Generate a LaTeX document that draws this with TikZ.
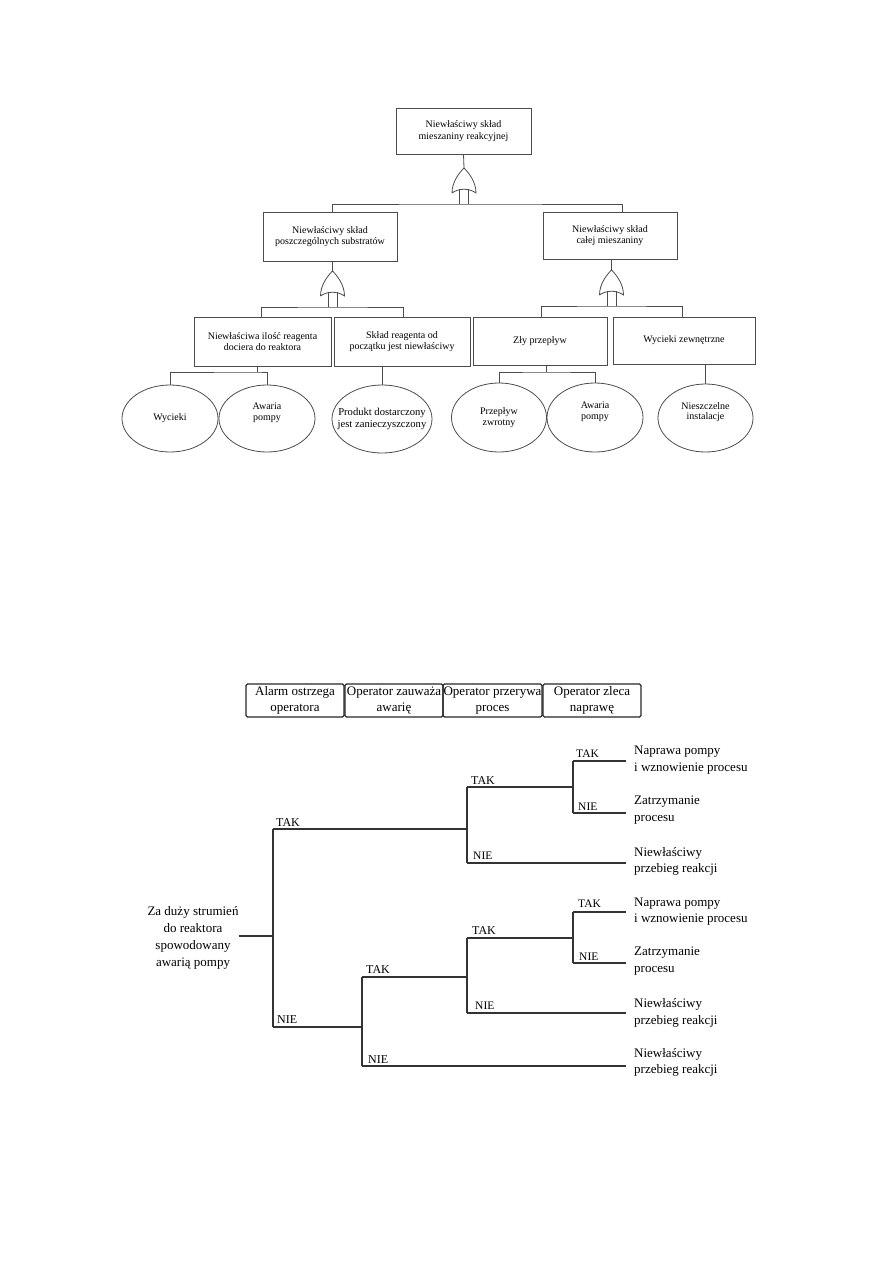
\documentclass[tikz,border=0pt]{standalone}
\usepackage{fontspec}
\setmainfont{Liberation Serif}
\usetikzlibrary{shapes.geometric}
\begin{document}
\begin{tikzpicture}[x=1pt,y=-1pt,
  ftline/.style={draw=black!70, line width=0.8pt},
  ftbox/.style={ftline, rectangle, inner sep=0pt, align=center, font=\fontsize{10}{11.5}\selectfont},
  ftell/.style={ftline, ellipse, inner sep=-12pt, align=center, font=\fontsize{10}{11.5}\selectfont},
  etline/.style={draw=black!80, line width=1.1pt},
  hbox/.style={draw=black!85, line width=1.1pt, rounded corners=1.5pt, rectangle, inner sep=0pt,
    minimum width=98pt, minimum height=33pt, align=center, font=\fontsize{13}{16}\selectfont},
  outc/.style={anchor=west, inner sep=0pt, align=left, font=\fontsize{13}{16.5}\selectfont},
  lab/.style={anchor=base west, inner sep=0pt, font=\fontsize{12}{14}\selectfont},
  labs/.style={anchor=base west, inner sep=0pt, font=\fontsize{11.5}{14}\selectfont},
  orgate/.pic={
    \draw[ftline, fill=white] (-12,25) .. controls (-12,14) and (-5,5) .. (0,0)
      .. controls (5,5) and (12,14) .. (12,25) .. controls (5,20) and (-5,20) .. (-12,25);
    \draw[ftline] (-4.5,21.2) -- (-4.5,36);
    \draw[ftline] (4.5,21.2) -- (4.5,36);
  }]
\useasboundingbox (0,0) rectangle (893,1263);

% ---------------- Fault tree ----------------
\node[ftbox, minimum width=135pt, minimum height=46pt] (top) at (463.5,131) {Niewłaściwy skład\\mieszaniny reakcyjnej};
\node[ftbox, minimum width=134pt, minimum height=49pt] (sub) at (330,236.5) {Niewłaściwy skład\\poszczególnych substratów};
\node[ftbox, minimum width=134pt, minimum height=47pt] (mix) at (610,235.5) {Niewłaściwy skład\\całej mieszaniny};
\node[ftbox, minimum width=137pt, minimum height=49pt] (A) at (262.5,341.5) {Niewłaściwa ilość reagenta\\dociera do reaktora};
\node[ftbox, minimum width=136pt, minimum height=49pt] (B) at (402,341.5) {Skład reagenta od\\początku jest niewłaściwy};
\node[ftbox, minimum width=134pt, minimum height=48pt] (C) at (540,341) {Zły przepływ};
\node[ftbox, minimum width=142pt, minimum height=47pt] (D) at (684,340.5) {Wycieki zewnętrzne};

\node[ftell, minimum width=96pt, minimum height=67pt] (e1) at (170,418.5) {Wycieki};
\node[ftell, minimum width=96pt, minimum height=67pt] (e2) at (267,418.5) {Awaria\\pompy\\[2pt]};
\node[ftell, minimum width=100pt, minimum height=68pt, font=\fontsize{10.6}{12}\selectfont] (e3) at (382,419) {Produkt dostarczony\\jest zanieczyszczony};
\node[ftell, minimum width=95pt, minimum height=69pt] (e4) at (499,417.5) {Przepływ\\zwrotny};
\node[ftell, minimum width=96pt, minimum height=69pt] (e5) at (595,417.5) {Awaria\\pompy\\[2pt]};
\node[ftell, minimum width=95pt, minimum height=68pt, font=\fontsize{10}{9.5}\selectfont] (e6) at (705.5,418) {Nieszczelne\\instalacje\\[4pt]};

% gates
\coordinate (g1) at (464,168);
\coordinate (g2) at (332.5,271);
\coordinate (g3) at (611.5,270);
\coordinate (bus1) at (464,204);
\coordinate (bus2) at (332.5,307);
\coordinate (bus3) at (611.5,306);
\coordinate (j1) at (257,372);
\coordinate (j2) at (546,372);

\draw[ftline] (top.south) -- (g1);
\pic at (g1) {orgate};
\draw[ftline] ([xshift=2pt]sub.north) |- (bus1) -| ([xshift=12pt]mix.north);

\draw[ftline] ([xshift=2.5pt]sub.south) -- (g2);
\pic at (g2) {orgate};
\draw[ftline] ([xshift=-1.5pt]A.north) |- (bus2) -| ([xshift=1pt]B.north);

\draw[ftline] ([xshift=1.5pt]mix.south) -- (g3);
\pic at (g3) {orgate};
\draw[ftline] ([xshift=1pt]C.north) |- (bus3) -| ([xshift=-2pt]D.north);

\draw[ftline] ([xshift=-5.5pt]A.south) -- (j1);
\draw[ftline] (e1.north) |- (j1) -| (e2.north);
\draw[ftline] (B.south -| e3.north) -- (e3.north);
\draw[ftline] ([xshift=6pt]C.south) -- (j2);
\draw[ftline] (e4.north) |- (j2) -| (e5.north);
\draw[ftline] (D.south -| e6.north) -- (e6.north);

% ---------------- Event tree ----------------
\node[hbox] (h1) at (295,700.5) {Alarm ostrzega\\operatora};
\node[hbox] (h2) at (394,700.5) {Operator zauważa\\awarię};
\node[hbox, minimum width=99pt] (h3) at (492.5,700.5) {Operator przerywa\\proces};
\node[hbox] (h4) at (592,700.5) {Operator zleca\\naprawę};

\node[inner sep=0pt, align=center, font=\fontsize{13}{17}\selectfont] (init) at (193,937.5)
  {Za duży strumień\\do reaktora\\spowodowany\\awarią pompy};

\coordinate (b0) at (273,936);
\coordinate (At) at (273,829);
\coordinate (An) at (273,1027);
\coordinate (Bt) at (467,787);
\coordinate (Bn) at (467,863);
\coordinate (Ct) at (362,977);
\coordinate (Cn) at (362,1066);
\coordinate (Dt) at (573,761);
\coordinate (Dn) at (573,813);
\coordinate (Et) at (467,938);
\coordinate (En) at (467,1013);
\coordinate (Ft) at (573,912);
\coordinate (Fn) at (573,963);
\coordinate (end) at (626,0);

\draw[etline] (init.east |- b0) -- (b0);
\draw[etline] (At) -- (An);
\draw[etline] (Bt) -- (Bn);
\draw[etline] (Ct) -- (Cn);
\draw[etline] (Dt) -- (Dn);
\draw[etline] (Et) -- (En);
\draw[etline] (Ft) -- (Fn);

\draw[etline] (At) -- (At -| Bt);
\draw[etline] (An) -- (An -| Ct);
\draw[etline] (Bt) -- (Bt -| Dt);
\draw[etline] (Ct) -- (Ct -| Et);
\draw[etline] (Et) -- (Et -| Ft);

\draw[etline] (Dt) -- (Dt -| end);
\draw[etline] (Dn) -- (Dn -| end);
\draw[etline] (Bn) -- (Bn -| end);
\draw[etline] (Ft) -- (Ft -| end);
\draw[etline] (Fn) -- (Fn -| end);
\draw[etline] (En) -- (En -| end);
\draw[etline] (Cn) -- (Cn -| end);

% branch labels
\node[lab] (l1) at (276,826) {TAK};
\node[lab] (l2) at (277,1023) {NIE};
\node[lab] (l3) at (366,973) {TAK};
\node[lab] (l4) at (368,1063) {NIE};
\node[lab] (l5) at (471,784) {TAK};
\node[labs] (l6) at (473,859) {NIE};
\node[labs] (l7) at (576,757) {TAK};
\node[labs] (l8) at (578,810) {NIE};
\node[labs] (l9) at (578,907) {TAK};
\node[lab] (l10) at (472,934) {TAK};
\node[labs] (l11) at (579,960) {NIE};
\node[labs] (l12) at (475,1009) {NIE};

% outcomes
\node[outc] (o1) at (634,760) {Naprawa pompy\\i wznowienie procesu};
\node[outc] (o2) at (634,810) {Zatrzymanie\\procesu};
\node[outc] (o3) at (634,861.5) {Niewłaściwy\\przebieg reakcji};
\node[outc] (o4) at (634,911.5) {Naprawa pompy\\i wznowienie procesu};
\node[outc] (o5) at (634,961) {Zatrzymanie\\procesu};
\node[outc] (o6) at (634,1013) {Niewłaściwy\\przebieg reakcji};
\node[outc] (o7) at (634,1062.5) {Niewłaściwy\\przebieg reakcji};
\end{tikzpicture}
\end{document}
